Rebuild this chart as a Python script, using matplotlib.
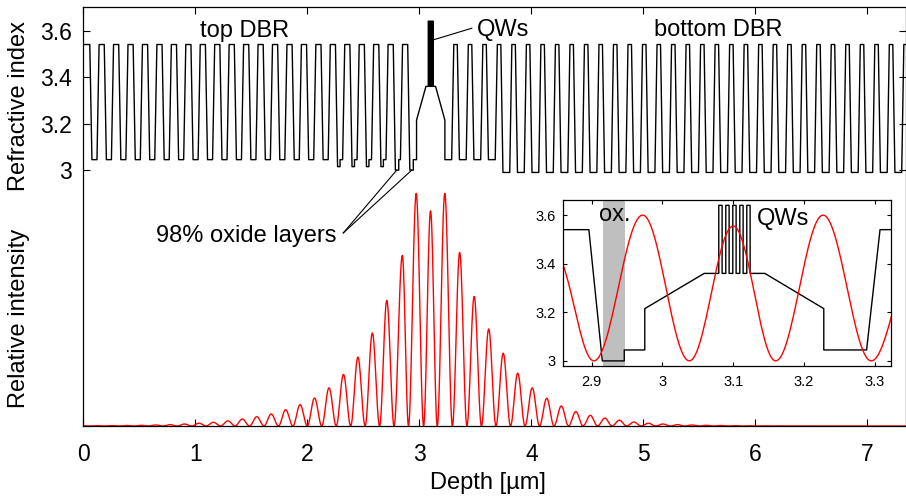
import matplotlib.pyplot as plt
import numpy as np

plt.rcParams['font.family'] = ['Liberation Sans', 'DejaVu Sans']
plt.rcParams['font.size'] = 17

# refractive indices of the layers
n_high = 3.54
n_low = 3.045
n_alas = 2.99
n_grin_lo = 3.215
n_grin_hi = 3.36
n_qw = 3.64

# top DBR (depth in um)
top_period = 0.129
top_first_grade = 0.058
top_low_flat = 0.045
grade = 0.019
top_dip_n = [3.045] * 17 + [3.015] * 4 + [3.0, 3.0]
top_dip_len = [0.0] * 17 + [0.022] * 4 + [0.030, 0.031]

# cavity
cavity_start = 2.975
grin_top = 3.059
qw_start = [3.0796, 3.0895, 3.0994, 3.1093, 3.1192]
qw_width = 0.0047
grin_bot_start = 3.1447
cavity_end = 3.228
oxide_band = (2.916, 2.947)

# bottom DBR
bot_period = 0.1296
bot_low_flat = 0.0605
bot_low_n = [n_low] * 4 + [n_alas] * 28

# standing wave: nodes and lobe heights
cav_nodes = [2.903, 3.038, 3.16, 3.295]
cav_peaks = [2.972, 3.10, 3.227]
cav_heights = [1.0, 0.925, 1.0]
first_top_peak = 2.848
top_heights = [0.733, 0.54, 0.40, 0.296, 0.222, 0.164, 0.12, 0.092, 0.07, 0.052,
               0.04, 0.03, 0.022, 0.016, 0.012, 0.0086, 0.0058, 0.0043, 0.003,
               0.0022, 0.0016, 0.0012, 0.0009]
bot_heights = [0.746, 0.557, 0.417, 0.313, 0.227, 0.164, 0.119, 0.086, 0.062, 0.046,
               0.034, 0.025, 0.017, 0.012, 0.0086, 0.006, 0.0043, 0.003, 0.002,
               0.0015, 0.001, 0.0007, 0.0005, 0.0003, 0.0002, 0.0, 0.0, 0.0, 0.0,
               0.0, 0.0, 0.0]

# ---- build index profile
xs, ns = [0.0], [n_high]
for k, (dn, dl) in enumerate(zip(top_dip_n, top_dip_len)):
    e = top_first_grade + k * top_period
    xs += [e, e + grade]
    ns += [n_high, dn]
    if dl > 0:
        xs += [e + grade + dl, e + grade + dl]
        ns += [dn, n_low]
    if k < len(top_dip_n) - 1:
        xs += [e + grade + top_low_flat, e + 2 * grade + top_low_flat]
        ns += [n_low, n_high]
    else:
        xs.append(cavity_start)
        ns.append(n_low)
xs += [cavity_start, grin_top]
ns += [n_grin_lo, n_grin_hi]
for s in qw_start:
    xs += [s, s, s + qw_width, s + qw_width]
    ns += [n_grin_hi, n_qw, n_qw, n_grin_hi]
xs += [grin_bot_start, cavity_end, cavity_end]
ns += [n_grin_hi, n_grin_lo, n_low]
for j, nl in enumerate(bot_low_n):
    b = cavity_end + j * bot_period
    if j > 0:
        xs += [b - grade, b]
        ns += [n_high, nl]
    xs += [b + bot_low_flat, b + bot_low_flat + grade]
    ns += [nl, n_high]
xs.append(cavity_end + len(bot_low_n) * bot_period - grade)
ns.append(n_high)

# ---- build intensity from lobes (left node, peak, right node, height)
lobes = []
for k, h in enumerate(top_heights):
    b = cav_nodes[0] - k * top_period
    a = b - top_period
    c = first_top_peak if k == 0 else (a + b) / 2
    lobes.append((a, c, b, h))
for i in range(3):
    lobes.append((cav_nodes[i], cav_peaks[i], cav_nodes[i + 1], cav_heights[i]))
for j, h in enumerate(bot_heights):
    a = cav_nodes[-1] + j * bot_period
    b = a + bot_period
    lobes.append((a, (a + b) / 2, b, h))
lobes.sort()
ix, iy = [], []
for a, c, b, h in lobes:
    t = np.linspace(0, 1, 30)
    x1 = a + (c - a) * t
    x2 = c + (b - c) * t[1:]
    ix += list(x1) + list(x2)
    iy += list(h * np.sin(np.pi / 2 * t) ** 2) + list(h * np.sin(np.pi / 2 + np.pi / 2 * t[1:]) ** 2)
ix = np.array(ix)
iy = np.array(iy)

W, H = 906, 499
fig = plt.figure(figsize=(W / 100, H / 100), dpi=100)
ax = fig.add_axes([83.3 / W, 1 - 426 / H, (905.5 - 83.3) / W, (426 - 7.3) / H])
base = 1.9
ax.plot(xs, ns, color='k', lw=1.0)
ax.plot(ix, base + iy, color='red', lw=1.0)
ax.set_xlim(0, 7.34)
ax.set_ylim(base, 3.7)
ax.set_xticks(range(8))
ax.set_yticks([3, 3.2, 3.4, 3.6])
ax.set_yticklabels(['3', '3.2', '3.4', '3.6'])
ax.tick_params(direction='in', top=True, right=True, length=5, width=0.8, labelsize=16.5)
ax.tick_params(axis='x', pad=12)
ax.tick_params(axis='y', pad=8.5)
for sp in ax.spines.values():
    sp.set_linewidth(0.9)

ax.text(1.443, 3.572, 'top DBR', ha='center', va='baseline')
ax.text(3.512, 3.575, 'QWs', ha='left', va='baseline')
ax.text(5.67, 3.575, 'bottom DBR', ha='center', va='baseline')
ax.plot([3.125, 3.468], [3.56, 3.61], color='k', lw=0.8)
ax.text(1.452, 2.691, '98% oxide layers', ha='center', va='baseline')
ax.plot([2.321, 2.798], [2.730, 3.0], color='k', lw=0.8)
ax.plot([2.321, 2.932], [2.730, 3.0], color='k', lw=0.8)

trans = ax.get_yaxis_transform()
ax.text(-0.0782, 3.276, 'Refractive index', rotation=90, ha='center', va='center', transform=trans)
ax.text(-0.0782, 2.364, 'Relative intensity', rotation=90, ha='center', va='center', transform=trans)
fig.text(487.5 / W, 1 - 483 / H, 'Depth [µm]', ha='center', va='center')

# ---- inset
axi = fig.add_axes([562.7 / W, 1 - 366 / H, (891 - 562.7) / W, (366 - 200) / H])
axi.set_facecolor('white')
axi.axvspan(*oxide_band, color='0.75', lw=0, zorder=0)
axi.plot(xs, ns, color='k', lw=1.0)
axi.plot(ix, 3.0 + 0.6 * iy, color='red', lw=1.0)
axi.set_xlim(2.859, 3.323)
axi.set_ylim(2.979, 3.662)
axi.set_xticks([2.9, 3.0, 3.1, 3.2, 3.3])
axi.set_xticklabels(['2.9', '3', '3.1', '3.2', '3.3'])
axi.set_yticks([3, 3.2, 3.4, 3.6])
axi.set_yticklabels(['3', '3.2', '3.4', '3.6'])
axi.tick_params(direction='in', top=True, right=True, length=3, width=0.8, labelsize=10.5)
axi.tick_params(axis='x', pad=6.5)
axi.tick_params(axis='y', pad=4.8)
for sp in axi.spines.values():
    sp.set_linewidth(0.9)
axi.text(2.91, 3.577, 'ox.', ha='left', va='baseline')
axi.text(3.133, 3.559, 'QWs', ha='left', va='baseline')

fig.savefig('out.png', dpi=100)
